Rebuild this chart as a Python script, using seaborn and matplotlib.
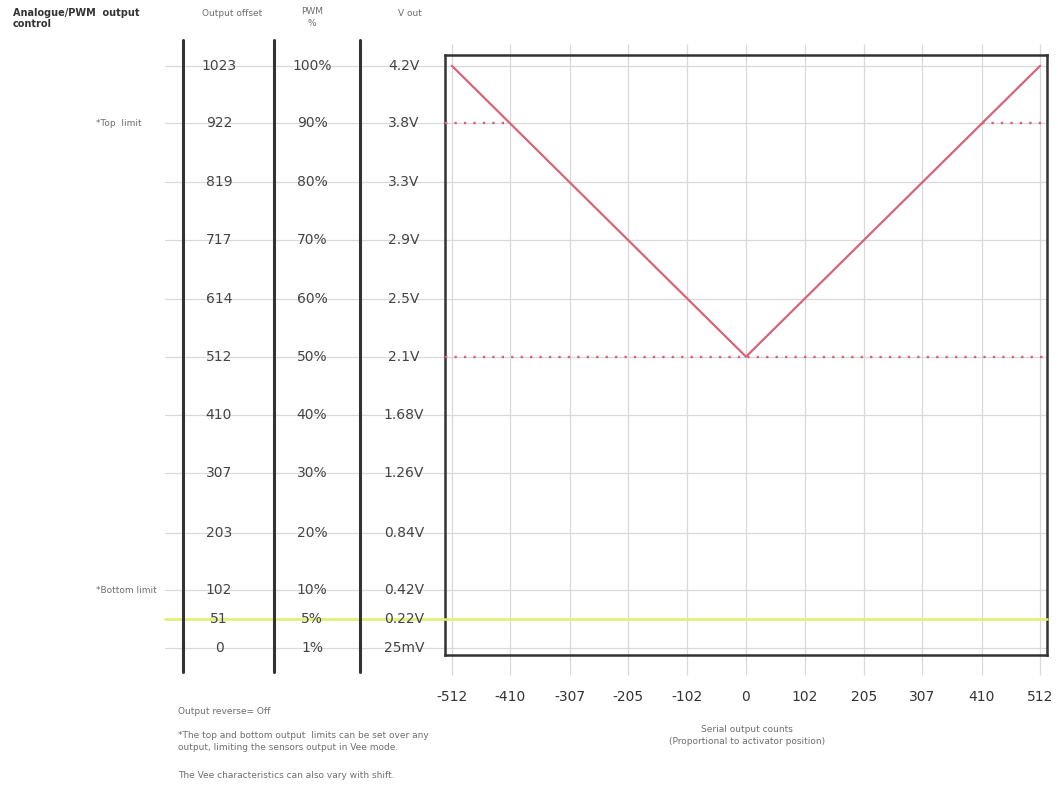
import matplotlib
matplotlib.use("Agg")
import matplotlib.pyplot as plt
from matplotlib.lines import Line2D
from matplotlib.transforms import blended_transform_factory
import numpy as np
import pandas as pd
import seaborn as sns

# ---- data -------------------------------------------------------------
offset_levels = [1023, 922, 819, 717, 614, 512, 410, 307, 203, 102, 51, 0]
offset_labels = ["1023", "922", "819", "717", "614", "512", "410", "307",
                 "203", "102", "51", "0"]
pwm_labels = ["100%", "90%", "80%", "70%", "60%", "50%", "40%", "30%",
              "20%", "10%", "5%", "1%"]
vout_labels = ["4.2V", "3.8V", "3.3V", "2.9V", "2.5V", "2.1V", "1.68V",
               "1.26V", "0.84V", "0.42V", "0.22V", "25mV"]

serial_counts = [-512, -410, -307, -205, -102, 0, 102, 205, 307, 410, 512]
serial_labels = ["-512", "-410", "-307", "-205", "-102", "0", "102", "205",
                 "307", "410", "512"]

# Vee characteristic: output offset vs serial output count
vee_counts = [-512, 0, 512]
vee_offset = [1023, 512, 1023]

top_limit = 922
top_limit_count = 410
centre_offset = 512
bottom_marker = 51

# ---- style ------------------------------------------------------------
sns.set_theme(style="white")
plt.rcParams["font.family"] = ["DejaVu Sans"]

W, H = 1058, 787
fig = plt.figure(figsize=(W / 100, H / 100), dpi=100)
fig.patch.set_facecolor("white")


def fx(px):
    return px / W


def fy(py):
    return 1 - py / H


ax = fig.add_axes([fx(445), fy(655), (1047 - 445) / W, (655 - 55) / H])
ax.set_xlim(-524, 524)
ax.set_ylim(-12, 1042)

grid_c = "#d9d9d9"
red = "#d6647a"
dark = "#333333"
txt_grey = "#6e6e6e"

# grid
ax.set_xticks(serial_counts)
ax.set_yticks(offset_levels)
ax.grid(True, color=grid_c, linewidth=0.9)
ax.set_axisbelow(True)
ax.tick_params(axis="both", length=0)
ax.set_yticklabels([])
ax.set_xticklabels(serial_labels, fontsize=10, color=dark)
ax.tick_params(axis="x", pad=25)
for s in ax.spines.values():
    s.set_visible(True)
    s.set_color(dark)
    s.set_linewidth(1.8)

# vertical grid extensions above and below the frame
xt = blended_transform_factory(ax.transData, ax.transAxes)
ax.vlines(serial_counts, -0.033, 0.0, transform=xt, clip_on=False,
          color=grid_c, linewidth=0.9, zorder=0)
ax.vlines(serial_counts, 1.0, 1.018, transform=xt, clip_on=False,
          color=grid_c, linewidth=0.9, zorder=0)

# Vee curve
vee = pd.DataFrame({"count": vee_counts, "offset": vee_offset})
sns.lineplot(data=vee, x="count", y="offset", ax=ax, color=red,
             linewidth=1.6, zorder=5)
ax.set_xlabel("")
ax.set_ylabel("")

# limit / centre dotted guides
dot = dict(color=red, linewidth=1.7, linestyle=(0, (1, 3)), zorder=4)
ax.plot([-524, -top_limit_count], [top_limit, top_limit], **dot)
ax.plot([top_limit_count, 524], [top_limit, top_limit], **dot)
ax.plot([-524, 524], [centre_offset, centre_offset], **dot)

# ---- table to the left, rows aligned with the chart's offset scale ----
rt = blended_transform_factory(fig.transFigure, ax.transData)
for y in offset_levels:
    ax.add_line(Line2D([fx(165), fx(445)], [y, y], transform=rt,
                       color=grid_c, linewidth=0.9, clip_on=False, zorder=0))

# yellow marker line at the 51 level
ax.add_line(Line2D([fx(165), fx(1047)], [bottom_marker, bottom_marker],
                   transform=rt, color="#e4ef6c", linewidth=1.8,
                   clip_on=False, zorder=3))

for y, a, b, c in zip(offset_levels, offset_labels, pwm_labels, vout_labels):
    ax.text(fx(219), y, a, transform=rt, ha="center", va="center",
            fontsize=10, color="#444444", clip_on=False)
    ax.text(fx(312), y, b, transform=rt, ha="center", va="center",
            fontsize=10, color="#444444", clip_on=False)
    ax.text(fx(404), y, c, transform=rt, ha="center", va="center",
            fontsize=10, color="#444444", clip_on=False)

for px in (183, 274, 360):
    fig.add_artist(Line2D([fx(px), fx(px)], [fy(40), fy(672)],
                          color=dark, linewidth=2.2))

# headers
fig.text(fx(13), fy(13), "Analogue/PWM  output", fontsize=7, weight="bold",
         color=dark, ha="left", va="center")
fig.text(fx(13), fy(24), "control", fontsize=7, weight="bold",
         color=dark, ha="left", va="center")
fig.text(fx(232), fy(14), "Output offset", fontsize=6.5, color=txt_grey,
         ha="center", va="center")
fig.text(fx(312), fy(12), "PWM", fontsize=6.5, color=txt_grey,
         ha="center", va="center")
fig.text(fx(312), fy(24), "%", fontsize=6.5, color=txt_grey,
         ha="center", va="center")
fig.text(fx(410), fy(14), "V out", fontsize=6.5, color=txt_grey,
         ha="center", va="center")

ax.text(fx(142), top_limit, "*Top  limit", transform=rt, fontsize=6.5,
        color=txt_grey, ha="right", va="center", clip_on=False)
ax.text(fx(157), 102, "*Bottom limit", transform=rt, fontsize=6.5,
        color=txt_grey, ha="right", va="center", clip_on=False)

# footer notes
fig.text(fx(178), fy(712), "Output reverse= Off", fontsize=6.5,
         color=txt_grey, ha="left", va="center")
fig.text(fx(178), fy(735), "*The top and bottom output  limits can be set over any",
         fontsize=6.5, color=txt_grey, ha="left", va="center")
fig.text(fx(178), fy(747), "output, limiting the sensors output in Vee mode.",
         fontsize=6.5, color=txt_grey, ha="left", va="center")
fig.text(fx(178), fy(775), "The Vee characteristics can also vary with shift.",
         fontsize=6.5, color=txt_grey, ha="left", va="center")

# axis caption
fig.text(fx(747), fy(729), "Serial output counts", fontsize=6.5,
         color=txt_grey, ha="center", va="center")
fig.text(fx(747), fy(741), "(Proportional to activator position)",
         fontsize=6.5, color=txt_grey, ha="center", va="center")

fig.savefig("out.png", dpi=100, facecolor="white")
